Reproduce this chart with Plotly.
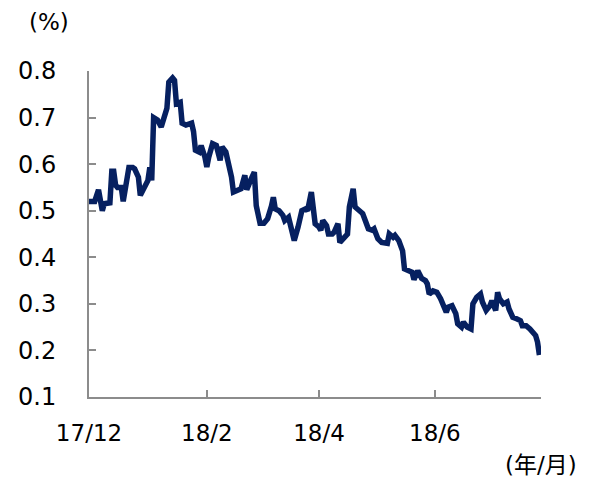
import plotly.graph_objects as go

dates = [
    "2017-12-01", "2017-12-04", "2017-12-06", "2017-12-07", "2017-12-08", "2017-12-09",
    "2017-12-12", "2017-12-13", "2017-12-14", "2017-12-15", "2017-12-16", "2017-12-18",
    "2017-12-19", "2017-12-22", "2017-12-24", "2017-12-25", "2017-12-27", "2017-12-28",
    "2017-12-30", "2018-01-01", "2018-01-02", "2018-01-03", "2018-01-04", "2018-01-06",
    "2018-01-08", "2018-01-10", "2018-01-11", "2018-01-12", "2018-01-14", "2018-01-15",
    "2018-01-16", "2018-01-18", "2018-01-19", "2018-01-21", "2018-01-24", "2018-01-25",
    "2018-01-26", "2018-01-28", "2018-01-29", "2018-01-31", "2018-02-01", "2018-02-02",
    "2018-02-04", "2018-02-06", "2018-02-08", "2018-02-09", "2018-02-11", "2018-02-12",
    "2018-02-14", "2018-02-15", "2018-02-17", "2018-02-19", "2018-02-21", "2018-02-22",
    "2018-02-24", "2018-02-25", "2018-02-26", "2018-02-27", "2018-03-01", "2018-03-03",
    "2018-03-05", "2018-03-07", "2018-03-08", "2018-03-09", "2018-03-11", "2018-03-13",
    "2018-03-14", "2018-03-16", "2018-03-18", "2018-03-19", "2018-03-21", "2018-03-23",
    "2018-03-25", "2018-03-26", "2018-03-28", "2018-03-29", "2018-03-30", "2018-04-01",
    "2018-04-02", "2018-04-03", "2018-04-05", "2018-04-06", "2018-04-08", "2018-04-09",
    "2018-04-11", "2018-04-12", "2018-04-14", "2018-04-16", "2018-04-17", "2018-04-19",
    "2018-04-20", "2018-04-23", "2018-04-24", "2018-04-26", "2018-04-27", "2018-04-29",
    "2018-04-30", "2018-05-02", "2018-05-04", "2018-05-07", "2018-05-08", "2018-05-10",
    "2018-05-11", "2018-05-13", "2018-05-15", "2018-05-16", "2018-05-18", "2018-05-20",
    "2018-05-21", "2018-05-23", "2018-05-25", "2018-05-27", "2018-05-28", "2018-05-29",
    "2018-05-31", "2018-06-02", "2018-06-04", "2018-06-05", "2018-06-07", "2018-06-08",
    "2018-06-10", "2018-06-12", "2018-06-13", "2018-06-15", "2018-06-16", "2018-06-18",
    "2018-06-19", "2018-06-20", "2018-06-21", "2018-06-23", "2018-06-25", "2018-06-26",
    "2018-06-28", "2018-06-30", "2018-07-01", "2018-07-03", "2018-07-04", "2018-07-05",
    "2018-07-07", "2018-07-09", "2018-07-10", "2018-07-12", "2018-07-14", "2018-07-16",
    "2018-07-17", "2018-07-19", "2018-07-21", "2018-07-23", "2018-07-24", "2018-07-25",
    "2018-07-26",
]

yields = [
    0.520, 0.520, 0.545, 0.510, 0.500, 0.515,
    0.517, 0.585, 0.585, 0.555, 0.550, 0.550,
    0.520, 0.593, 0.593, 0.590, 0.572, 0.533,
    0.548, 0.565, 0.593, 0.565, 0.700, 0.695,
    0.680, 0.710, 0.720, 0.776, 0.785, 0.780,
    0.730, 0.733, 0.688, 0.684, 0.688, 0.670,
    0.630, 0.626, 0.640, 0.615, 0.594, 0.615,
    0.644, 0.640, 0.608, 0.637, 0.626, 0.608,
    0.572, 0.540, 0.544, 0.547, 0.576, 0.545,
    0.565, 0.576, 0.583, 0.511, 0.473, 0.473,
    0.483, 0.510, 0.529, 0.504, 0.500, 0.490,
    0.479, 0.486, 0.458, 0.436, 0.465, 0.500,
    0.504, 0.500, 0.540, 0.500, 0.472, 0.465,
    0.458, 0.479, 0.468, 0.450, 0.450, 0.454,
    0.472, 0.432, 0.440, 0.450, 0.508, 0.547,
    0.508, 0.497, 0.494, 0.472, 0.461, 0.458,
    0.461, 0.440, 0.432, 0.430, 0.450, 0.443,
    0.447, 0.436, 0.414, 0.375, 0.371, 0.368,
    0.352, 0.371, 0.355, 0.350, 0.343, 0.321,
    0.328, 0.325, 0.311, 0.300, 0.282, 0.293,
    0.296, 0.279, 0.257, 0.250, 0.261, 0.250,
    0.246, 0.246, 0.300, 0.314, 0.321, 0.304,
    0.286, 0.296, 0.307, 0.286, 0.325, 0.311,
    0.300, 0.304, 0.289, 0.271, 0.268, 0.264,
    0.253, 0.253, 0.246, 0.236, 0.232, 0.218,
    0.190,
]

x_tick_vals = ["2017-12-01", "2018-02-01", "2018-04-01", "2018-06-01"]
x_tick_text = ["17/12", "18/2", "18/4", "18/6"]
y_tick_vals = [0.1, 0.2, 0.3, 0.4, 0.5, 0.6, 0.7, 0.8]
y_tick_text = ["0.1", "0.2", "0.3", "0.4", "0.5", "0.6", "0.7", "0.8"]

FONT = "DejaVu Sans, Noto Sans CJK JP, sans-serif"
AXIS_COLOR = "#8c8c8c"
FS = 23

fig = go.Figure()
fig.add_trace(go.Scatter(
    x=dates, y=yields, mode="lines",
    line=dict(color="#062060", width=5.5),
    showlegend=False, hoverinfo="skip",
))

# the page body adds an 8px offset; margins compensate so the plot area
# lands on the reference's pixel positions
fig.update_layout(
    width=590, height=477,
    margin=dict(l=81, r=57, t=63, b=88, autoexpand=False),
    paper_bgcolor="white", plot_bgcolor="white",
    font=dict(family=FONT, size=FS, color="#000000"),
    xaxis=dict(
        type="date", automargin=False,
        range=["2017-12-01", "2018-07-26 20:00"],
        tickvals=x_tick_vals, ticktext=x_tick_text,
        ticks="inside", ticklen=7, tickwidth=2, tickcolor=AXIS_COLOR,
        showline=True, linecolor=AXIS_COLOR, linewidth=2,
        showgrid=False, zeroline=False,
        ticklabelstandoff=14,
        tickfont=dict(family=FONT, size=FS, color="#000000"),
    ),
    yaxis=dict(
        automargin=False,
        range=[0.1, 0.8],
        tickvals=y_tick_vals, ticktext=y_tick_text,
        ticks="inside", ticklen=7, tickwidth=2, tickcolor=AXIS_COLOR,
        showline=True, linecolor=AXIS_COLOR, linewidth=2,
        showgrid=False, zeroline=False,
        ticklabelstandoff=26,
        tickfont=dict(family=FONT, size=24, color="#000000"),
    ),
    annotations=[
        dict(text="(%)", xref="paper", yref="paper", x=-0.0885, y=1.0,
             xanchor="center", yanchor="bottom", yshift=34, showarrow=False,
             font=dict(family=FONT, size=FS, color="#000000")),
        dict(text="(年/月)", xref="paper", yref="paper", x=1.0, y=0.0,
             xanchor="center", yanchor="top", yshift=-53, showarrow=False,
             font=dict(family=FONT, size=FS, color="#000000")),
    ],
)

fig.write_html("out.html")
